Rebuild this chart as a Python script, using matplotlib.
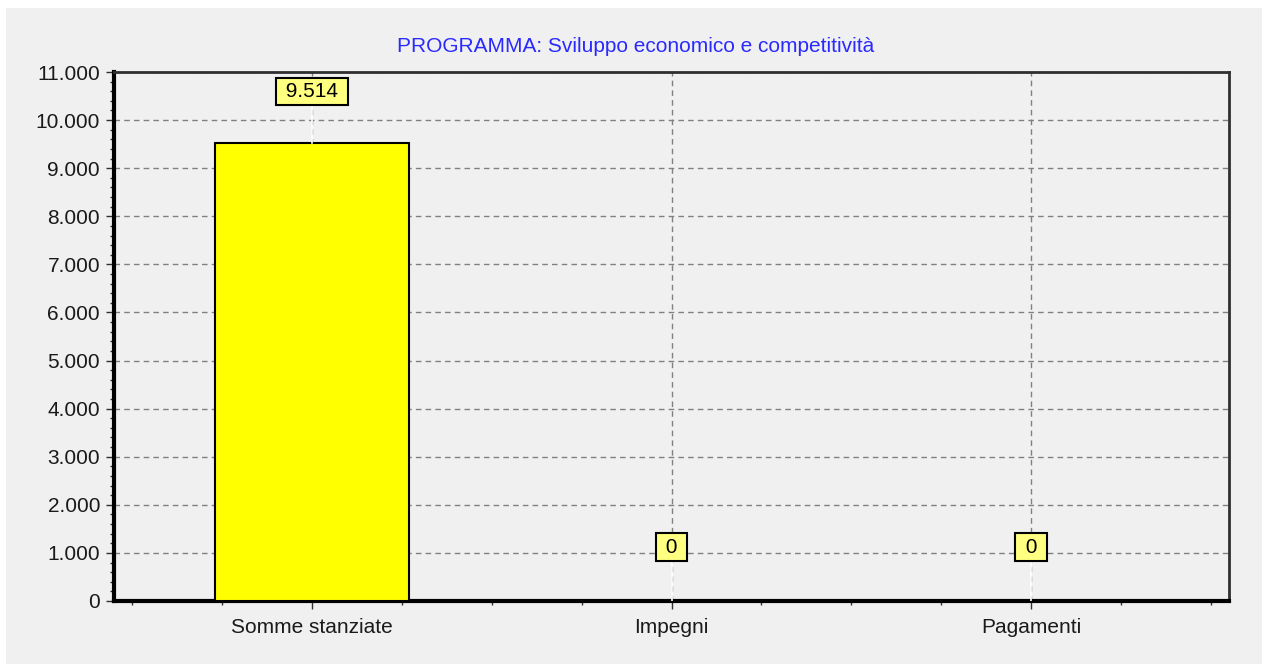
import matplotlib.pyplot as plt
from matplotlib.patches import Rectangle
from matplotlib.ticker import FuncFormatter, MultipleLocator

# data
categories = ['Somme stanziate', 'Impegni', 'Pagamenti']
values = [9514, 0, 0]
label_y = [10600, 1120, 1120]
title = 'PROGRAMMA: Sviluppo economico e competitività'

plt.rcParams['font.family'] = ['Liberation Sans', 'DejaVu Sans']

W, H = 1262, 664
fig = plt.figure(figsize=(W / 100, H / 100), dpi=100, facecolor='white')
# grey panel inside a thin white margin (left/top)
fig.patches.append(Rectangle((6 / W, 0), 1 - 6 / W, 1 - 8 / H, transform=fig.transFigure,
                             facecolor='#f0f0f0', edgecolor='none', zorder=-10))

ax = fig.add_axes([114 / W, 1 - 601 / H, (1229 - 114) / W, (601 - 72) / H])
ax.set_facecolor('#f0f0f0')

x = list(range(len(categories)))
ax.bar(x, values, width=0.54, color='#ffff00', edgecolor='black', linewidth=1.5, zorder=3)

ax.set_xlim(-0.55, 2.55)
ax.set_ylim(0, 11000)
ax.yaxis.set_major_locator(MultipleLocator(1000))
ax.yaxis.set_minor_locator(MultipleLocator(200))
ax.yaxis.set_major_formatter(FuncFormatter(lambda v, p: f'{int(v):,}'.replace(',', '.')))
ax.set_xticks(x)
ax.set_xticklabels(categories)
ax.xaxis.set_minor_locator(MultipleLocator(0.25))

ax.grid(True, which='major', linestyle=(0, (4, 3)), color='#808080', linewidth=1, zorder=1)
ax.set_axisbelow(True)

ax.tick_params(axis='both', which='major', labelsize=15, colors='#303030', length=6, width=1)
ax.tick_params(axis='both', which='minor', length=3, width=1, colors='#303030')
ax.tick_params(axis='x', which='major', pad=6)
ax.tick_params(axis='y', which='major', pad=4)
for lab in ax.get_xticklabels() + ax.get_yticklabels():
    lab.set_color('#1a1a1a')

ax.spines['left'].set_linewidth(3)
ax.spines['left'].set_color('black')
ax.spines['bottom'].set_linewidth(3)
ax.spines['bottom'].set_color('black')
ax.spines['top'].set_linewidth(2)
ax.spines['top'].set_color('#303030')
ax.spines['right'].set_linewidth(2)
ax.spines['right'].set_color('#303030')

# value labels with white leader lines
for xi, v, ly in zip(x, values, label_y):
    ax.plot([xi, xi], [v, ly], color='white', linewidth=1.2, zorder=4)
    txt = ' ' + f'{v:,}'.replace(',', '.') + ' '
    ax.text(xi, ly, txt, ha='center', va='center', fontsize=15,
            color='black', zorder=5,
            bbox=dict(boxstyle='square,pad=0.2', facecolor='#ffff80', edgecolor='black', linewidth=1.5))

fig.text(636 / W, 1 - 46 / H, title, ha='center', va='center', fontsize=15, color='#2a2aff')

fig.savefig('out.png', dpi=100, facecolor=fig.get_facecolor())
